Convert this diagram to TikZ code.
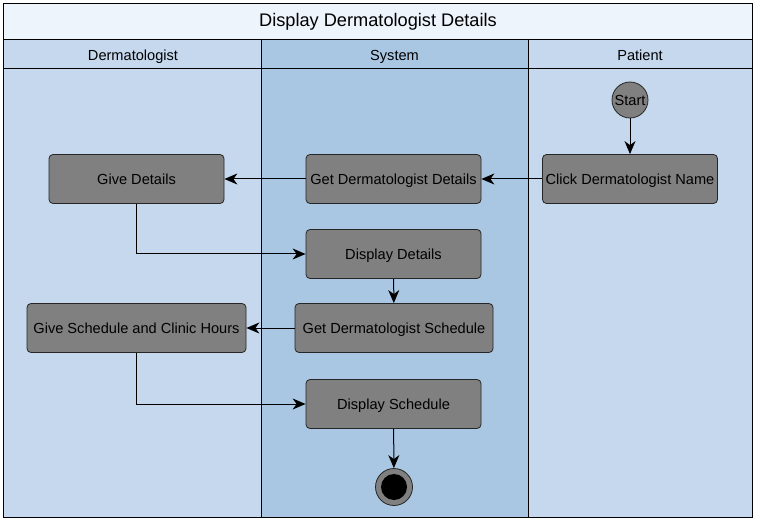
\documentclass[tikz,border=0pt]{standalone}
\usepackage{fontspec}
\setmainfont{Liberation Sans}
\usetikzlibrary{arrows.meta}
\definecolor{lanelight}{HTML}{C5D8EE}
\definecolor{lanemid}{HTML}{A9C7E2}
\definecolor{titlebg}{HTML}{EEF4FC}
\definecolor{nodegray}{HTML}{808080}
\tikzset{
  act/.style={draw=black!85, fill=nodegray, rounded corners=4pt, minimum height=49pt, font=\fontsize{14.6}{16}\selectfont, text height=13pt, text depth=2.5pt, inner sep=1pt, line width=0.8pt},
  flow/.style={-{Stealth[length=13pt,width=11pt,inset=4pt]}, line width=1pt},
  lanebox/.style={draw=black, line width=0.9pt},
  hdr/.style={font=\fontsize{14.6}{16}\selectfont, text height=13pt, text depth=2.5pt},
}
\begin{document}
\begin{tikzpicture}[x=1pt,y=-1pt]
\useasboundingbox (0,0) rectangle (757,521);
% lanes
\fill[lanelight] (3,39) rectangle (261,517);
\fill[lanemid] (261,39) rectangle (528,517);
\fill[lanelight] (528,39) rectangle (752,517);
\fill[titlebg] (3,3) rectangle (752,39);
\draw[lanebox] (3,3) rectangle (752,517);
\draw[lanebox] (3,39) -- (752,39);
\draw[lanebox] (3,68) -- (752,68);
\draw[lanebox] (261,39) -- (261,517);
\draw[lanebox] (528,39) -- (528,517);
\node[font=\fontsize{18.2}{20}\selectfont, text height=13pt, text depth=3pt] (title) at (378,22) {Display Dermatologist Details};
\node[hdr] (h1) at (133,55) {Dermatologist};
\node[hdr] (h2) at (394.5,55) {System};
\node[hdr] (h3) at (640,55) {Patient};
% nodes
\node[circle, draw=black!85, fill=nodegray, minimum size=36pt, inner sep=0pt, line width=0.8pt, font=\fontsize{14.6}{16}\selectfont] (start) at (630,100) {Start};
\node[act, minimum width=175pt] (click) at (630,179) {Click Dermatologist Name};
\node[act, minimum width=175pt] (getdet) at (393.5,179) {Get Dermatologist Details};
\node[act, minimum width=175pt] (give) at (136.5,179) {Give Details};
\node[act, minimum width=175pt] (disp) at (393.5,254) {Display Details};
\node[act, minimum width=198pt] (getsch) at (394,328) {Get Dermatologist Schedule};
\node[act, minimum width=219pt] (givesch) at (136.5,328) {Give Schedule and Clinic Hours};
\node[act, minimum width=175pt] (dispsch) at (393.5,404) {Display Schedule};
\node[circle, draw=black!85, fill=nodegray, minimum size=37pt, inner sep=0pt, line width=0.8pt] (end) at (394,487) {};
\node[circle, fill=black, minimum size=26pt, inner sep=0pt] (endin) at (end.center) {};
% flows
\draw[flow] (start) -- (click);
\draw[flow] (click) -- (getdet);
\draw[flow] (getdet) -- (give);
\draw[flow] (give.south) |- (disp.west);
\draw[flow] (disp) -- (getsch);
\draw[flow] (getsch) -- (givesch);
\draw[flow] (givesch.south) |- (dispsch.west);
\draw[flow] (dispsch) -- (end);
\end{tikzpicture}
\end{document}
